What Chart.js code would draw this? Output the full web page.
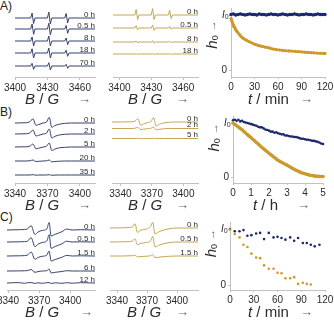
<!DOCTYPE html>
<html>
<head>
<meta charset="utf-8">
<script src="https://cdn.jsdelivr.net/npm/chart.js@4"></script>
<style>
  body { margin: 0; background: #fff; width: 334px; height: 320px; position: relative; overflow: hidden; }
  canvas { position: absolute; }
  .tag { position: absolute; left: 0; font: 12px/12px "Liberation Sans", Arial, sans-serif; color: #222; }
</style>
</head>
<body>
<div class="tag" style="top:0px">A)</div>
<div class="tag" style="top:106px">B)</div>
<div class="tag" style="top:211px">C)</div>
<script>
// ========================================
// EPR decay figure: spectra (left, middle) + h0 kinetics (right)
// ========================================

// ---- Row A spectra: field (G) and signal per trace (up = positive) ----
const fieldA = [3394, 3414.5, 3415.8, 3417.2, 3418.5, 3430, 3431.3, 3432.7, 3434, 3446, 3447.3, 3448.7, 3450, 3474];
const ticksA = [3400, 3430, 3460];
const blueA = [
  [0, 0, 5, -5.5, 0, 0, 6, -6, 0, 0, 4.5, -5, 0, 0],
  [0, 0, 5, -5.3, 0, 0, 5.7, -6, 0, 0, 3.5, -4.3, 0, 0],
  [0, 0, 4, -5, 0, 0, 5, -5, 0, 0, 3, -3.7, 0, 0],
  [0, 0, 4.3, -5, 0, 0, 5, -5, 0, 0, 2.7, -3.3, 0, 0],
  [0, 0, 2.7, -3.3, 0, 0, 3.3, -4, 0, 0, 1.7, -2.3, 0, 0]
];
const blueANames = ['0 h', '0.5 h', '8 h', '18 h', '70 h'];
const blueAStack = [18, 29, 41, 53, 66];
const goldA = [
  [0, 0, 5.5, -4.5, 0, 0, 6.5, -4.5, 0, 0, 5, -3.5, 0, 0],
  [0, 0, 2.3, -1.7, 0, 0, 2.7, -2.3, 0, 0, 1.7, -1.2, 0, 0],
  [0, 0, 1, -0.8, 0, 0, 1.2, -1, 0, 0, 0.8, -0.6, 0, 0],
  [0, 0, 0.4, -0.3, 0, 0, 0.5, -0.4, 0, 0, 0.3, -0.3, 0, 0]
];
const goldANames = ['0 h', '0.5 h', '8 h', '18 h'];
const goldAStack = [15, 28, 42, 54];

// ---- Row B spectra ----
const fieldB = [3332, 3350, 3354, 3356.6, 3359.4, 3362, 3366, 3369, 3371.7, 3374, 3377, 3381, 3386, 3392, 3414];
const ticksB = [3340, 3370, 3400];
const blueB = [
  [0, 0.2, 1.5, 4.3, -2.3, -1.5, 0, 0.8, 5.7, -4.3, -2.5, -1.2, -0.4, 0, 0],
  [0, 0.2, 1.3, 4, -2, -1.3, 0, 0.7, 5, -4, -2.3, -1, -0.3, 0, 0],
  [0, 0.2, 1, 3, -1.8, -1.2, 0, 0.6, 4, -3.5, -2, -0.8, -0.3, 0, 0],
  [0, 0, 0.3, 1, -0.5, -0.3, 0, 0.2, 1, -0.9, -0.5, -0.2, 0, 0, 0],
  [0, 0, 0, 0.3, -0.2, 0, 0, 0, 0.3, -0.3, -0.1, 0, 0, 0, 0]
];
const blueBNames = ['0 h', '2 h', '5 h', '20 h', '35 h'];
const blueBStack = [18, 29, 42, 56, 70];
const goldB = [
  [0, 0.2, 1, 3.3, -3.3, -2, -0.5, 0.5, 4.3, -4, -2.3, -1, -0.3, 0, 0],
  [0, 0, 0.3, 1.2, -1, -0.7, -0.2, 0.2, 1.5, -1.3, -0.8, -0.3, 0, 0, 0],
  [0, 0, 0, 0.2, -0.2, 0, 0, 0, 0.2, -0.2, 0, 0, 0, 0, 0]
];
const goldBNames = ['0 h', '2 h', '5 h'];
const goldBStack = [17, 23.5, 33.5];

// ---- Row C spectra ----
const fieldC = [3339, 3350, 3356, 3359, 3362.3, 3366, 3369, 3373, 3377.4, 3379.7, 3381.6, 3385.5, 3392, 3396.8, 3402, 3410, 3424];
const ticksC = [3340, 3370, 3400];
const blueC = [
  [0, 0.3, 0.5, 1.2, 4.3, -4.5, -2, -0.5, 1, 7.5, -6, -4.3, -1.7, 1, 0, 0.3, 0],
  [0, 0.2, 0.4, 1, 4.3, -4.7, -2.2, -0.5, 1, 7.3, -6.3, -4.5, -1.8, 0.8, 0, 0.2, 0],
  [0, 0.2, 0.4, 1, 4, -3.3, -1.5, -0.3, 0.8, 5, -5, -3.5, -1.3, 0.6, 0, 0.2, 0],
  [0, 0.1, 0.2, 0.5, 1.5, -1.3, -0.6, 0, 0.3, 2, -2, -1.3, -0.5, 0.3, 0, 0, 0],
  [0, 0.4, -0.3, 0.3, 0.4, -0.4, 0.2, -0.3, 0.3, 0.5, -0.5, 0.2, -0.3, 0.3, -0.2, 0.3, 0]
];
const blueCNames = ['0 h', '0.5 h', '1.5 h', '6 h', '12 h'];
const blueCStack = [20, 32, 46, 61, 73];
const fieldCGold = [3333, 3345, 3352, 3355.5, 3358, 3360.3, 3364, 3369.7, 3373.7, 3375.7, 3378, 3383, 3391, 3400, 3421];
const goldC = [
  [0, 0.2, 0.5, 1.2, 4.3, -4.3, -2, -1, 1.7, 5.7, -5.7, -3.3, -1, 0, 0],
  [0, 0.2, 0.4, 1, 3.3, -2.7, -1.3, -0.5, 1.3, 5.7, -5, -2.7, -0.8, 0, 0],
  [0, 0, 0.2, 0.3, 1, -1, -0.5, -0.2, 0.3, 1.3, -1.7, -1, -0.3, 0, 0]
];
const goldCNames = ['0 h', '0.5 h', '1.5 h'];
const goldCStack = [18, 32, 46];

// ---- Kinetics (h0 / I0) ----
const timeA = [0, 3, 6, 9, 12, 15, 18, 21, 24, 27, 30, 33, 36, 39, 42, 45, 48, 51, 54, 57, 60,
  63, 66, 69, 72, 75, 78, 81, 84, 87, 90, 93, 96, 99, 102, 105, 108, 111, 114, 117, 120];
const blueAKin = [1.02, 1.03, 1.01, 1.02, 1.03, 1.02, 1.01, 1.02, 1.03, 1.02, 1.02, 1.01, 1.03, 1.02,
  1.02, 1.01, 1.02, 1.03, 1.02, 1.02, 1.01, 1.02, 1.03, 1.02, 1.01, 1.02, 1.02, 1.03, 1.02, 1.01,
  1.02, 1.02, 1.03, 1.02, 1.02, 1.01, 1.02, 1.03, 1.02, 1.02, 1.02];
const timeAGold = [0, 1, 2, 3, 4, 5, 6, 7, 8, 10, 12, 14, 16, 18, 20, 23, 26, 29, 32, 35, 38, 41, 44,
  47, 50, 54, 58, 62, 66, 70, 74, 78, 82, 86, 90, 94, 98, 102, 106, 110, 114, 118, 120];
const goldAKin = [0.945, 0.9, 0.865, 0.83, 0.8, 0.77, 0.74, 0.72, 0.7, 0.665, 0.63, 0.6, 0.58, 0.56,
  0.545, 0.52, 0.5, 0.48, 0.465, 0.45, 0.44, 0.43, 0.42, 0.41, 0.4, 0.385, 0.375, 0.367, 0.36, 0.354,
  0.35, 0.347, 0.342, 0.337, 0.332, 0.327, 0.322, 0.318, 0.314, 0.311, 0.308, 0.306, 0.305];

const timeB = [0, 0.1, 0.2, 0.3, 0.4, 0.5, 0.6, 0.7, 0.8, 0.9, 1, 1.1, 1.2, 1.3, 1.4, 1.5, 1.6, 1.7,
  1.8, 1.9, 2, 2.1, 2.2, 2.3, 2.4, 2.5, 2.6, 2.7, 2.8, 2.9, 3, 3.1, 3.2, 3.3, 3.4, 3.5, 3.6, 3.7, 3.8,
  3.9, 4, 4.1, 4.2, 4.3, 4.4, 4.5, 4.6, 4.7, 4.8, 4.9, 5];
const blueBKin = [1.05, 1.06, 1.04, 1.06, 1.03, 1.04, 1.02, 1.01, 1.0, 0.99, 0.98, 0.97, 0.96, 0.95,
  0.93, 0.92, 0.92, 0.9, 0.88, 0.87, 0.86, 0.84, 0.84, 0.82, 0.83, 0.81, 0.8, 0.79, 0.79, 0.77, 0.77,
  0.76, 0.75, 0.75, 0.74, 0.74, 0.73, 0.72, 0.71, 0.71, 0.7, 0.69, 0.69, 0.68, 0.67, 0.67, 0.66, 0.65,
  0.64, 0.62, 0.61];
const goldBKin = [1.0, 0.975, 0.95, 0.925, 0.9, 0.875, 0.845, 0.815, 0.785, 0.757, 0.73, 0.7, 0.67,
  0.64, 0.61, 0.58, 0.552, 0.524, 0.496, 0.468, 0.44, 0.413, 0.387, 0.361, 0.335, 0.31, 0.29, 0.272,
  0.254, 0.237, 0.22, 0.2, 0.18, 0.162, 0.143, 0.125, 0.11, 0.095, 0.08, 0.07, 0.06, 0.05, 0.04,
  0.033, 0.027, 0.02, 0.016, 0.013, 0.011, 0.01, 0.01];

const timeCBlue = [0, 6, 12, 17, 22, 27, 33, 38, 43, 49, 55, 60, 65, 70, 76, 81, 86, 92, 97, 102, 107, 113];
const blueCKin = [1.0, 0.96, 0.96, 0.98, 0.88, 0.89, 0.92, 0.93, 0.82, 0.93, 0.85, 0.86, 0.84, 0.81,
  0.85, 0.79, 0.84, 0.75, 0.75, 0.72, 0.69, 0.72];
const timeCGold = [0, 6, 12, 17, 22, 27, 33, 38, 43, 49, 55, 60, 65, 70, 76, 81, 86, 92, 97, 102];
const goldCKin = [0.99, 0.91, 0.85, 0.72, 0.68, 0.56, 0.49, 0.48, 0.35, 0.29, 0.29, 0.22, 0.21, 0.12,
  0.12, 0.14, 0.02, 0.04, 0.02, 0.01];

const ticksMin = [0, 30, 60, 90, 120];
const ticksHour = [0, 1, 2, 3, 4, 5];

// ---- styles ----
const FONT = '"Liberation Sans", Arial, sans-serif';
const INK = '#2b2b2b';
const AXIS = '#c2c2c2';
const BLUE_LINE = '#35416f';
const GOLD_LINE = '#c6a654';
const BLUE_DOT = '#1c286c';
const GOLD_DOT = '#cc9a2c';

const bTitle = [{ t: 'B', it: true }, { t: ' / ' }, { t: 'G', it: true }];
const minTitle = [{ t: 't', it: true }, { t: ' / min' }];
const hourTitle = [{ t: 't', it: true }, { t: ' / h' }];
const hTitle = [{ t: 'h', it: true, size: 15 }, { t: '0', size: 9, dy: 3, gap: 4 }, { t: '→', size: 11, color: '#666' }];

function drawRun(ctx, parts, x, y) {
    ctx.textAlign = 'left';
    ctx.textBaseline = 'middle';
    for (const p of parts) {
        ctx.font = (p.it ? 'italic ' : '') + (p.size || 15) + 'px ' + FONT;
        ctx.fillStyle = p.color || INK;
        ctx.fillText(p.t, x, y + (p.dy || 0));
        x += ctx.measureText(p.t).width + (p.gap || 0);
    }
    return x;
}

const textLayer = {
    id: 'textLayer',
    afterDraw(chart, args, o) {
        const { ctx, chartArea: a, scales } = chart;
        ctx.save();
        if (o.names) {
            ctx.font = '8px ' + FONT;
            ctx.fillStyle = INK;
            ctx.textAlign = 'right';
            ctx.textBaseline = 'alphabetic';
            o.names.forEach((n, i) => ctx.fillText(n, a.right, scales.y.getPixelForValue(o.stack[i]) - 1.5));
        }
        if (o.xTitle) {
            drawRun(ctx, o.xTitle, a.left + o.titleDx, a.bottom + 23);
            drawRun(ctx, [{ t: '→', size: 13, color: '#666' }], a.left + o.arrowDx, a.bottom + 22);
        }
        if (o.yTitle) {
            const y1 = scales.y.getPixelForValue(1);
            const y0 = scales.y.getPixelForValue(0);
            drawRun(ctx, [{ t: 'I', it: true, size: 10 }, { t: '0', size: 7, dy: 2 }], a.left - 9, y1);
            ctx.font = '10px ' + FONT;
            ctx.fillStyle = INK;
            ctx.textAlign = 'right';
            ctx.fillText('0', a.left - 4, y0);
            ctx.translate(a.left - 18, scales.y.getPixelForValue(o.yTitleAt));
            ctx.rotate(-Math.PI / 2);
            drawRun(ctx, o.yTitle, -7, 0);
        }
        ctx.restore();
    }
};

function put(left, top, w, h) {
    const c = document.createElement('canvas');
    c.width = w;
    c.height = h;
    c.style.left = left + 'px';
    c.style.top = top + 'px';
    c.style.width = w + 'px';
    c.style.height = h + 'px';
    document.body.appendChild(c);
    return c;
}

function xAxis(min, max, values, axisH, tickLen, pad) {
    return {
        type: 'linear', min, max,
        afterBuildTicks: s => { s.ticks = values.map(v => ({ value: v })); },
        afterFit: s => { s.height = axisH; s.paddingLeft = 0; s.paddingRight = 0; },
        grid: { display: true, drawOnChartArea: false, drawTicks: true, tickLength: tickLen, color: AXIS },
        border: { display: true, color: AXIS, width: 1 },
        ticks: {
            color: INK, font: { family: FONT, size: 10 }, padding: pad, maxRotation: 0, autoSkip: false,
            callback: v => String(v)
        }
    };
}

function spectrumChart(pos, s) {
    const cv = put(pos.left, pos.top, pos.w, pos.h);
    const datasets = s.traces.map((tr, i) => ({
        data: s.field.map((g, j) => ({ x: g, y: s.stack[i] - tr[j] })),
        borderColor: s.color, borderWidth: 1, pointRadius: 0,
        tension: s.smooth ? 0.4 : 0, cubicInterpolationMode: s.smooth ? 'monotone' : 'default', fill: false
    }));
    new Chart(cv, {
        type: 'line',
        data: { datasets },
        options: {
            responsive: false, animation: false, devicePixelRatio: 1,
            layout: { padding: { left: pos.padL, right: pos.padR, top: 0, bottom: 0 } },
            scales: {
                x: xAxis(s.min, s.max, s.ticks, pos.h - pos.axisY, 3, 2),
                y: { display: false, reverse: true, min: 0, max: pos.axisY }
            },
            plugins: {
                legend: { display: false }, tooltip: { enabled: false },
                textLayer: { names: s.names, stack: s.stack, xTitle: bTitle, titleDx: pos.titleDx, arrowDx: pos.arrowDx }
            }
        },
        plugins: [textLayer]
    });
}

function kineticsChart(pos, k) {
    const cv = put(pos.left, pos.top, pos.w, pos.h);
    const datasets = k.series.map(s => ({
        data: s.t.map((t, i) => ({ x: t, y: s.v[i] })),
        backgroundColor: s.color, borderColor: s.color,
        pointRadius: s.r, pointBorderWidth: 0, pointHoverRadius: 0,
        showLine: !!s.line, borderWidth: s.line || 0, clip: false
    }));
    new Chart(cv, {
        type: 'scatter',
        data: { datasets },
        options: {
            responsive: false, animation: false, devicePixelRatio: 1,
            layout: { padding: { left: 0, right: pos.padR, top: pos.padT, bottom: 0 } },
            scales: {
                x: xAxis(k.min, k.max, k.ticks, pos.h - pos.axisY, 2, 2),
                y: {
                    min: pos.ymin, max: pos.ymax,
                    afterBuildTicks: s => { s.ticks = [{ value: 0 }, { value: 1 }]; },
                    afterFit: s => { s.width = pos.yw; },
                    ticks: { display: false },
                    grid: { display: true, drawOnChartArea: false, tickLength: 2, color: AXIS },
                    border: { display: true, color: AXIS }
                }
            },
            plugins: {
                legend: { display: false }, tooltip: { enabled: false },
                textLayer: { xTitle: k.title, titleDx: pos.titleDx, arrowDx: pos.arrowDx, yTitle: hTitle, yTitleAt: pos.hAt }
            }
        },
        plugins: [textLayer]
    });
}

// ---- Row A ----
spectrumChart({ left: 0, top: 0, w: 105, h: 106, axisY: 77, padL: 15, padR: 10, titleDx: 10, arrowDx: 63 },
    { field: fieldA, traces: blueA, stack: blueAStack, names: blueANames, ticks: ticksA, min: 3400, max: 3474, color: BLUE_LINE });
spectrumChart({ left: 105, top: 0, w: 105, h: 106, axisY: 77, padL: 8, padR: 12, titleDx: 15, arrowDx: 63 },
    { field: fieldA, traces: goldA, stack: goldAStack, names: goldANames, ticks: ticksA, min: 3394, max: 3474, color: GOLD_LINE });
kineticsChart({ left: 195, top: 0, w: 139, h: 106, axisY: 77, padT: 8, padR: 9, yw: 36, ymin: -0.128, ymax: 1.138, titleDx: 17, arrowDx: 69, hAt: 0.52 },
    { min: 0, max: 120, ticks: ticksMin, title: minTitle, series: [
        { t: timeAGold, v: goldAKin, color: GOLD_DOT, r: 1.6, line: 2.4 },
        { t: timeA, v: blueAKin, color: BLUE_DOT, r: 1.7, line: 2.2 }
    ] });

// ---- Row B ----
spectrumChart({ left: 0, top: 105, w: 105, h: 107, axisY: 78, padL: 15, padR: 10, titleDx: 10, arrowDx: 63 },
    { field: fieldB, traces: blueB, stack: blueBStack, names: blueBNames, ticks: ticksB, min: 3340, max: 3414, color: BLUE_LINE, smooth: true });
spectrumChart({ left: 105, top: 105, w: 105, h: 107, axisY: 78, padL: 7, padR: 12, titleDx: 16, arrowDx: 64 },
    { field: fieldB, traces: goldB, stack: goldBStack, names: goldBNames, ticks: ticksB, min: 3332, max: 3414, color: GOLD_LINE, smooth: true });
kineticsChart({ left: 195, top: 105, w: 139, h: 107, axisY: 78, padT: 11, padR: 11, yw: 38, ymin: -0.111, ymax: 1.13, titleDx: 20, arrowDx: 64, hAt: 0.6 },
    { min: 0, max: 5, ticks: ticksHour, title: hourTitle, series: [
        { t: timeB, v: goldBKin, color: GOLD_DOT, r: 1.8, line: 2.6 },
        { t: timeB, v: blueBKin, color: BLUE_DOT, r: 1.3 }
    ] });

// ---- Row C ----
spectrumChart({ left: 0, top: 210, w: 105, h: 110, axisY: 80, padL: 7, padR: 10, titleDx: 18, arrowDx: 73 },
    { field: fieldC, traces: blueC, stack: blueCStack, names: blueCNames, ticks: ticksC, min: 3339, max: 3424, color: BLUE_LINE, smooth: true });
spectrumChart({ left: 105, top: 210, w: 105, h: 110, axisY: 80, padL: 5, padR: 12, titleDx: 17, arrowDx: 66 },
    { field: fieldCGold, traces: goldC, stack: goldCStack, names: goldCNames, ticks: ticksC, min: 3333, max: 3421, color: GOLD_LINE, smooth: true });
kineticsChart({ left: 195, top: 210, w: 139, h: 110, axisY: 80, padT: 12, padR: 9, yw: 35, ymin: -0.089, ymax: 1.125, titleDx: 18, arrowDx: 70, hAt: 0.62 },
    { min: 0, max: 120, ticks: ticksMin, title: minTitle, series: [
        { t: timeCGold, v: goldCKin, color: GOLD_DOT, r: 1.3 },
        { t: timeCBlue, v: blueCKin, color: BLUE_DOT, r: 1.3 }
    ] });
</script>
</body>
</html>
